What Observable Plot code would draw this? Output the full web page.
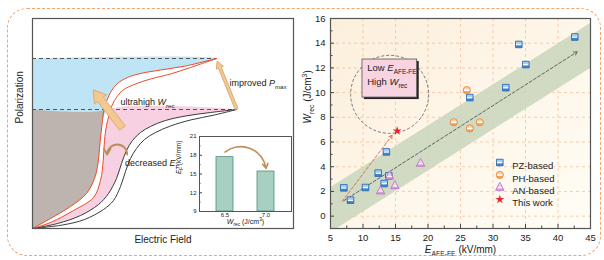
<!DOCTYPE html>
<html><head><meta charset="utf-8">
<script src="https://cdn.jsdelivr.net/npm/d3@7"></script>
<script src="https://cdn.jsdelivr.net/npm/@observablehq/plot@0.6"></script>
<style>
body{margin:0;width:604px;height:260px;position:relative;overflow:hidden;background:#fff;font-family:"Liberation Sans",Arial,sans-serif}
.pane{position:absolute}
svg text{white-space:pre}
</style>
</head><body>
<div id="left" class="pane" style="left:0;top:0"></div>
<div id="inset" class="pane" style="left:170px;top:125px"></div>
<div id="right" class="pane" style="left:300px;top:0"></div>
<div style="position:absolute;left:7px;top:8px;width:592px;height:246px;border:1.5px dashed #f2a46c;border-radius:20px;pointer-events:none"></div>
<script>
const FONT = "Liberation Sans, Arial, sans-serif";

// ===== Left schematic: P–E loops (arbitrary units) =====
const redOuterX = [0,18,38,54,62,65.5,67,68.5,70,71.5,74,78,85,95,108,128,153,184];
const redOuterY = [0,10,22,35,50,65,80,95,108,119,127,136,145,151,155,158.5,162.5,170];
const redInnerX = [0,18,41,61,68,70.7,72,74,76.5,78,82,90,103,118,138,158,184];
const redInnerY = [0,6,18,31,48,68,88,103,113,119,128,138,144.5,149.5,154.5,161,170];
const blackUpX = [0,25,48,66,76,84,89,94,100,108,118,133,153,178,204];
const blackUpY = [0,5,13,24,35,50,65,78,88,96,102,108,112.5,116,119];
const blackLowX = [0,30,52,71,81,88,93,98,104,112,123,138,158,182,204];
const blackLowY = [0,3.5,9,19,28,42,57,70,80,89,96,102.5,108.5,113.5,119];
const dashLevels = [170, 119];
const dashEnds = [184, 204];
const bigArrowTail = [89.7, 100.7], bigArrowTip = [60.7, 138.7];
const thinArrowTail = [204, 119.7], thinArrowTip = [184.7, 167.3];
const curlFrom = [94.7, 74], curlTo = [74.7, 74];
const leftLabels = ["ultrahigh *W*_{rec}", "improved *P*_{max}", "decreased *E*_{F}"];
const leftLabelX = [88, 197, 92.5];
const leftLabelY = [126.3, 145, 65.5];

// ===== Inset bar chart =====
const insetCats = ["6.5", "7.0"];
const insetVals = [17.7, 15.4];
const insetYTicks = [9, 12, 15, 18, 21];
const insetYMinor = [10.5, 13.5, 16.5, 19.5];
const insetArrowY = [18.5, 15.9];

// ===== Right scatter =====
const xTicks = [5, 10, 15, 20, 25, 30, 35, 40, 45];
const xMinor = [7.5, 12.5, 17.5, 22.5, 27.5, 32.5, 37.5, 42.5];
const yTicks = [0, 2, 4, 6, 8, 10, 12, 14, 16];
const yMinor = [1, 3, 5, 7, 9, 11, 13, 15];
const pzX = [7.05, 8.08, 10.38, 12.34, 13.26, 13.6, 13.97, 26.43, 31.97, 33.97, 35.05, 42.58];
const pzY = [2.29, 1.29, 2.32, 3.48, 2.64, 5.2, 3.26, 9.6, 10.4, 13.9, 12.27, 14.5];
const phX = [23.97, 25.97, 26.43, 27.97];
const phY = [7.6, 10.2, 7.1, 7.6];
const anX = [12.7, 14.08, 14.9, 18.85];
const anY = [2.05, 3.26, 2.48, 4.29];
const starX = [15.26], starY = [6.9];
const bandX = [5, 45], bandLow = [-1.35, 11.95], bandHigh = [2.3, 15.6];
const trendFrom = [7.05, 1.25], trendTo = [42.95, 13.3];
const redTrendFrom = [6.8, 1.2], redTrendTo = [14.5, 6.55];
const circleC = [14.1, 9.86];
const noteBoxX = [9.92, 18.34], noteBoxY = [9.6, 12.68];
const noteLines = ["Low *E*_{AFE-FE}", "High *W*_{rec}"];
const noteX = [10.65, 10.65], noteY = [12.0, 10.84];
const legendNames = ["PZ-based", "PH-based", "AN-based", "This work"];

// ---------- helpers ----------
const pts = (xs, ys) => xs.map((x, i) => ({x, y: ys[i]}));
const sym = fn => ({draw(c, size) { fn(c, Math.sqrt(size / Math.PI)); }});
const shapes = {
  square: {
    full: sym((c, r) => c.rect(-r, -r, 2 * r, 2 * r)),
    top: sym((c, r) => c.rect(-r, -r, 2 * r, 0.85 * r)),
    stripe: sym((c, r) => c.rect(-r * 0.85, -r * 0.17, 1.7 * r, 0.42 * r))
  },
  circle: {
    full: sym((c, r) => { c.moveTo(r, 0); c.arc(0, 0, r, 0, 2 * Math.PI); }),
    top: sym((c, r) => { c.moveTo(-r, 0); c.arc(0, 0, r, Math.PI, 2 * Math.PI); c.closePath(); }),
    stripe: sym((c, r) => c.rect(-r * 0.8, -r * 0.17, 1.6 * r, 0.42 * r))
  },
  triangle: {
    full: sym((c, r) => { c.moveTo(0, -1.15 * r); c.lineTo(r, 0.75 * r); c.lineTo(-r, 0.75 * r); c.closePath(); }),
    top: sym((c, r) => { c.moveTo(0, -1.15 * r); c.lineTo(0.55 * r, -0.1 * r); c.lineTo(-0.55 * r, -0.1 * r); c.closePath(); }),
    stripe: sym((c, r) => { c.moveTo(-0.5 * r, -0.05 * r); c.lineTo(0.5 * r, -0.05 * r); c.lineTo(0.68 * r, 0.25 * r); c.lineTo(-0.68 * r, 0.25 * r); c.closePath(); })
  }
};
const styles = {
  PZ: {shape: shapes.square, r: 3.3, main: "#3b84d4", light: "#a9cdf1", edge: "#2a67ad"},
  PH: {shape: shapes.circle, r: 3.6, main: "#f6a35a", light: "#fbd0a4", edge: "#e9843c"},
  AN: {shape: shapes.triangle, r: 4.2, main: "#d9a2de", light: "#f1d6f3", edge: "#b76dc1"}
};
function halfMarkers(data, st, pos) {
  return [
    Plot.dot(data, {...pos, symbol: st.shape.full, r: st.r, fill: st.main, stroke: "none"}),
    Plot.dot(data, {...pos, symbol: st.shape.top, r: st.r, fill: st.light, stroke: "none"}),
    Plot.dot(data, {...pos, symbol: st.shape.stripe, r: st.r, fill: "#fff", stroke: "none"}),
    Plot.dot(data, {...pos, symbol: st.shape.full, r: st.r, fill: "none", stroke: st.edge, strokeWidth: 0.8})
  ];
}
const blockArrow = (w, hw, hl) => ({draw(c, l) {
  c.moveTo(-w, 0); c.lineTo(-w, -(l - hl)); c.lineTo(-hw, -(l - hl)); c.lineTo(0, -l);
  c.lineTo(hw, -(l - hl)); c.lineTo(w, -(l - hl)); c.lineTo(w, 0); c.closePath();
}});
function vec(tail, tip, shape) {
  const dx = tip[0] - tail[0], dy = tip[1] - tail[1];
  return Plot.vector([{x: tail[0], y: tail[1]}], {
    x: "x", y: "y", anchor: "start", length: Math.hypot(dx, dy),
    rotate: Math.atan2(dx, dy) * 180 / Math.PI, shape,
    fill: "#f4c892", stroke: "#d9a46a", strokeWidth: 0.8
  });
}
function richify(root) {
  const NS = "http://www.w3.org/2000/svg";
  root.querySelectorAll("text").forEach(t => {
    const s = t.textContent;
    if (!/(\*|_\{|\^\{)/.test(s)) return;
    const fs = parseFloat(getComputedStyle(t).fontSize) || 10;
    while (t.firstChild) t.removeChild(t.firstChild);
    const re = /\*([^*]+)\*|_\{([^}]*)\}|\^\{([^}]*)\}|([^*_^]+)/g;
    let m, shift = 0;
    while ((m = re.exec(s))) {
      const sp = document.createElementNS(NS, "tspan");
      let target = 0;
      if (m[1] !== undefined) { sp.textContent = m[1]; sp.setAttribute("font-style", "italic"); }
      else if (m[2] !== undefined) { sp.textContent = m[2]; sp.setAttribute("font-size", fs * 0.68); target = fs * 0.3; }
      else if (m[3] !== undefined) { sp.textContent = m[3]; sp.setAttribute("font-size", fs * 0.68); target = -fs * 0.4; }
      else sp.textContent = m[4];
      const d = target - shift;
      if (d) sp.setAttribute("dy", d);
      shift = target;
      t.appendChild(sp);
    }
  });
}

// ---------- LEFT ----------
const L1 = pts(redOuterX, redOuterY), R2 = pts(redInnerX, redInnerY);
const B1 = pts(blackUpX, blackUpY), B2 = pts(blackLowX, blackLowY);
const grayPoly = [{x: 0, y: 0}, ...L1.filter(d => d.y <= dashLevels[1]), {x: 0, y: dashLevels[1]}];
const bluePoly = [{x: 0, y: dashLevels[1]}, ...L1.filter(d => d.y >= dashLevels[1]), {x: 0, y: dashLevels[0]}];
const pinkPoly = [...R2.filter(d => d.y <= dashLevels[1]), ...B1.slice().reverse()];
const curve = "catmull-rom";
const leftPlot = Plot.plot({
  width: 300, height: 260, marginLeft: 32, marginRight: 7, marginTop: 18, marginBottom: 32,
  x: {domain: [0, 261], axis: null}, y: {domain: [0, 210], axis: null},
  style: {background: "transparent", fontFamily: FONT, color: "#222"},
  marks: [
    Plot.line(grayPoly, {x: "x", y: "y", fill: "#bdb4af", stroke: "none", curve}),
    Plot.line(bluePoly, {x: "x", y: "y", fill: "#bee4f6", stroke: "none", curve}),
    Plot.line(pinkPoly, {x: "x", y: "y", fill: "#f7d0e2", stroke: "none", curve}),
    Plot.ruleY(dashLevels, {y: d => d, x1: 0, x2: (d, i) => dashEnds[i], stroke: "#555", strokeDasharray: "4,3", strokeWidth: 1}),
    Plot.line(B1, {x: "x", y: "y", stroke: "#3a3a3a", strokeWidth: 1, curve}),
    Plot.line(B2, {x: "x", y: "y", stroke: "#3a3a3a", strokeWidth: 1, curve}),
    Plot.line(L1, {x: "x", y: "y", stroke: "#ee4b2b", strokeWidth: 1, curve}),
    Plot.line(R2, {x: "x", y: "y", stroke: "#ee4b2b", strokeWidth: 1, curve}),
    vec(bigArrowTail, bigArrowTip, blockArrow(3.6, 7.5, 12)),
    vec(thinArrowTail, thinArrowTip, blockArrow(1.5, 3.8, 7)),
    Plot.arrow([0], {x1: curlFrom[0], y1: curlFrom[1], x2: curlTo[0], y2: curlTo[1], bend: -90,
      stroke: "#b88f5c", strokeWidth: 1.8, headLength: 6}),
    Plot.text(leftLabels, {x: (d, i) => leftLabelX[i], y: (d, i) => leftLabelY[i], text: d => d,
      textAnchor: "start", fontSize: 9, fill: "#222"}),
    Plot.text(["Polarization"], {frameAnchor: "left", text: d => d, rotate: -90, dx: -13, fontSize: 10, fill: "#222"}),
    Plot.text(["Electric Field"], {frameAnchor: "bottom", text: d => d, dy: 14, fontSize: 10, fill: "#222"}),
    Plot.frame({stroke: "#555", strokeWidth: 1.2})
  ]
});
document.getElementById("left").appendChild(leftPlot);

// ---------- INSET ----------
const insetData = insetCats.map((c, i) => ({c, v: insetVals[i]}));
const insetPlot = Plot.plot({
  width: 128, height: 110, marginLeft: 29, marginRight: 7, marginTop: 11, marginBottom: 24,
  x: {domain: insetCats, type: "band", paddingInner: 0.595, paddingOuter: 0.393, tickSize: 0, tickPadding: 1.5, label: null},
  y: {domain: [9, 21], ticks: insetYTicks, tickSize: 0, tickPadding: 3, label: null},
  style: {background: "transparent", fontFamily: FONT, fontSize: "6px", color: "#222"},
  marks: [
    Plot.frame({fill: "#fff"}),
    Plot.barY(insetData, {x: "c", y1: insetYTicks[0], y2: "v", fill: "#a7cfc2", stroke: "#4d907a", strokeWidth: 0.8}),
    Plot.ruleY(insetYTicks, {y: d => d, insetRight: 89, stroke: "#444"}),
    Plot.ruleY(insetYMinor, {y: d => d, insetRight: 90.5, stroke: "#444"}),
    Plot.arrow([0], {x1: () => insetCats[0], y1: insetArrowY[0], x2: () => insetCats[1], y2: insetArrowY[1], bend: 60,
      stroke: "#c08f58", strokeWidth: 1.6, headLength: 5}),
    Plot.text(["*E*_{F} (kV/mm)"], {frameAnchor: "left", text: d => d, rotate: -90, dx: -21, fontSize: 6.5, fill: "#222"}),
    Plot.text(["*W*_{rec} (J/cm^{3})"], {frameAnchor: "bottom", text: d => d, dy: 12, fontSize: 7, fill: "#222"}),
    Plot.frame({stroke: "#555", strokeWidth: 1})
  ]
});
document.getElementById("inset").appendChild(insetPlot);

// ---------- RIGHT ----------
const defsMark = () => {
  const g = document.createElementNS("http://www.w3.org/2000/svg", "defs");
  g.innerHTML = '<linearGradient id="bgGrad" x1="0" y1="0" x2="1" y2="1"><stop offset="0" stop-color="#fcefdc"/><stop offset="1" stop-color="#fffdf6"/></linearGradient>';
  return g;
};
const bandData = bandX.map((x, i) => ({x, lo: bandLow[i], hi: bandHigh[i]}));
const legendMarks = [];
const legendDy = [144, 156.4, 168.7, 181];
["PZ", "PH", "AN"].forEach((k, i) => {
  legendMarks.push(...halfMarkers([0], styles[k], {frameAnchor: "top-left", dx: 169.3, dy: legendDy[i]}));
});
legendMarks.push(Plot.dot([0], {frameAnchor: "top-left", dx: 169.3, dy: legendDy[3], symbol: "star", r: 2.8, fill: "#e8242a"}));
legendNames.forEach((n, i) => legendMarks.push(Plot.text([n], {frameAnchor: "top-left", dx: 181.7, dy: legendDy[i], text: d => d,
  textAnchor: "start", fontSize: 9.5, fill: "#222"})));
const rightPlot = Plot.plot({
  width: 304, height: 260, marginLeft: 30, marginRight: 14, marginTop: 18, marginBottom: 32,
  x: {domain: [5, 45], ticks: xTicks, tickSize: 0, tickPadding: 6, label: null},
  y: {domain: [-1, 16], ticks: yTicks, tickSize: 0, tickPadding: 5, label: null},
  style: {background: "transparent", fontFamily: FONT, fontSize: "9.5px", color: "#222"},
  marks: [
    defsMark,
    Plot.frame({fill: "url(#bgGrad)", stroke: "none"}),
    Plot.ruleX(xTicks.slice(1, -1), {x: d => d, stroke: "#f5c19c", strokeDasharray: "3,3", strokeWidth: 0.8}),
    Plot.ruleY(yTicks.slice(0, -1), {y: d => d, stroke: "#f5c19c", strokeDasharray: "3,3", strokeWidth: 0.8}),
    Plot.areaY(bandData, {x: "x", y1: "lo", y2: "hi", fill: "#c9d6bc", fillOpacity: 0.85, clip: true}),
    Plot.arrow([0], {x1: () => trendFrom[0], y1: () => trendFrom[1], x2: () => trendTo[0], y2: () => trendTo[1], stroke: "#555",
      strokeDasharray: "3,2", strokeWidth: 0.9, headLength: 6}),
    Plot.arrow([0], {x1: () => redTrendFrom[0], y1: () => redTrendFrom[1], x2: () => redTrendTo[0], y2: () => redTrendTo[1], stroke: "#ef5a3c",
      strokeDasharray: "3,2", strokeWidth: 0.9, headLength: 6}),
    Plot.dot([0], {x: () => circleC[0], y: () => circleC[1], r: 39, fill: "none", stroke: "#666", strokeDasharray: "3,2", strokeWidth: 0.9}),
    Plot.rect([0], {x1: () => noteBoxX[0], x2: () => noteBoxX[1], y1: () => noteBoxY[0], y2: () => noteBoxY[1], fill: "#222", dx: 2, dy: 2}),
    Plot.rect([0], {x1: () => noteBoxX[0], x2: () => noteBoxX[1], y1: () => noteBoxY[0], y2: () => noteBoxY[1], fill: "#f8d4e0", stroke: "#555", strokeWidth: 0.8}),
    Plot.text(noteLines, {x: (d, i) => noteX[i], y: (d, i) => noteY[i], text: d => d, textAnchor: "start", fontSize: 9.5, fill: "#222"}),
    ...halfMarkers(pts(pzX, pzY), styles.PZ, {x: "x", y: "y"}),
    ...halfMarkers(pts(phX, phY), styles.PH, {x: "x", y: "y"}),
    ...halfMarkers(pts(anX, anY), styles.AN, {x: "x", y: "y"}),
    Plot.dot(pts(starX, starY), {x: "x", y: "y", symbol: "star", r: 2.8, fill: "#e8242a"}),
    ...legendMarks,
    Plot.ruleX(xTicks, {x: d => d, insetTop: 206, stroke: "#444"}),
    Plot.ruleX(xMinor, {x: d => d, insetTop: 207.5, stroke: "#444"}),
    Plot.ruleY(yTicks, {y: d => d, insetRight: 256, stroke: "#444"}),
    Plot.ruleY(yMinor, {y: d => d, insetRight: 257.5, stroke: "#444"}),
    Plot.text(["*W*_{rec} (J/cm^{3})"], {frameAnchor: "left", text: d => d, rotate: -90, dx: -23, fontSize: 10, fill: "#222"}),
    Plot.text(["*E*_{AFE-FE} (kV/mm)"], {frameAnchor: "bottom", text: d => d, dy: 24, fontSize: 10, fill: "#222"}),
    Plot.frame({stroke: "#555", strokeWidth: 1.2})
  ]
});
document.getElementById("right").appendChild(rightPlot);

richify(document.body);
</script>
</body></html>
